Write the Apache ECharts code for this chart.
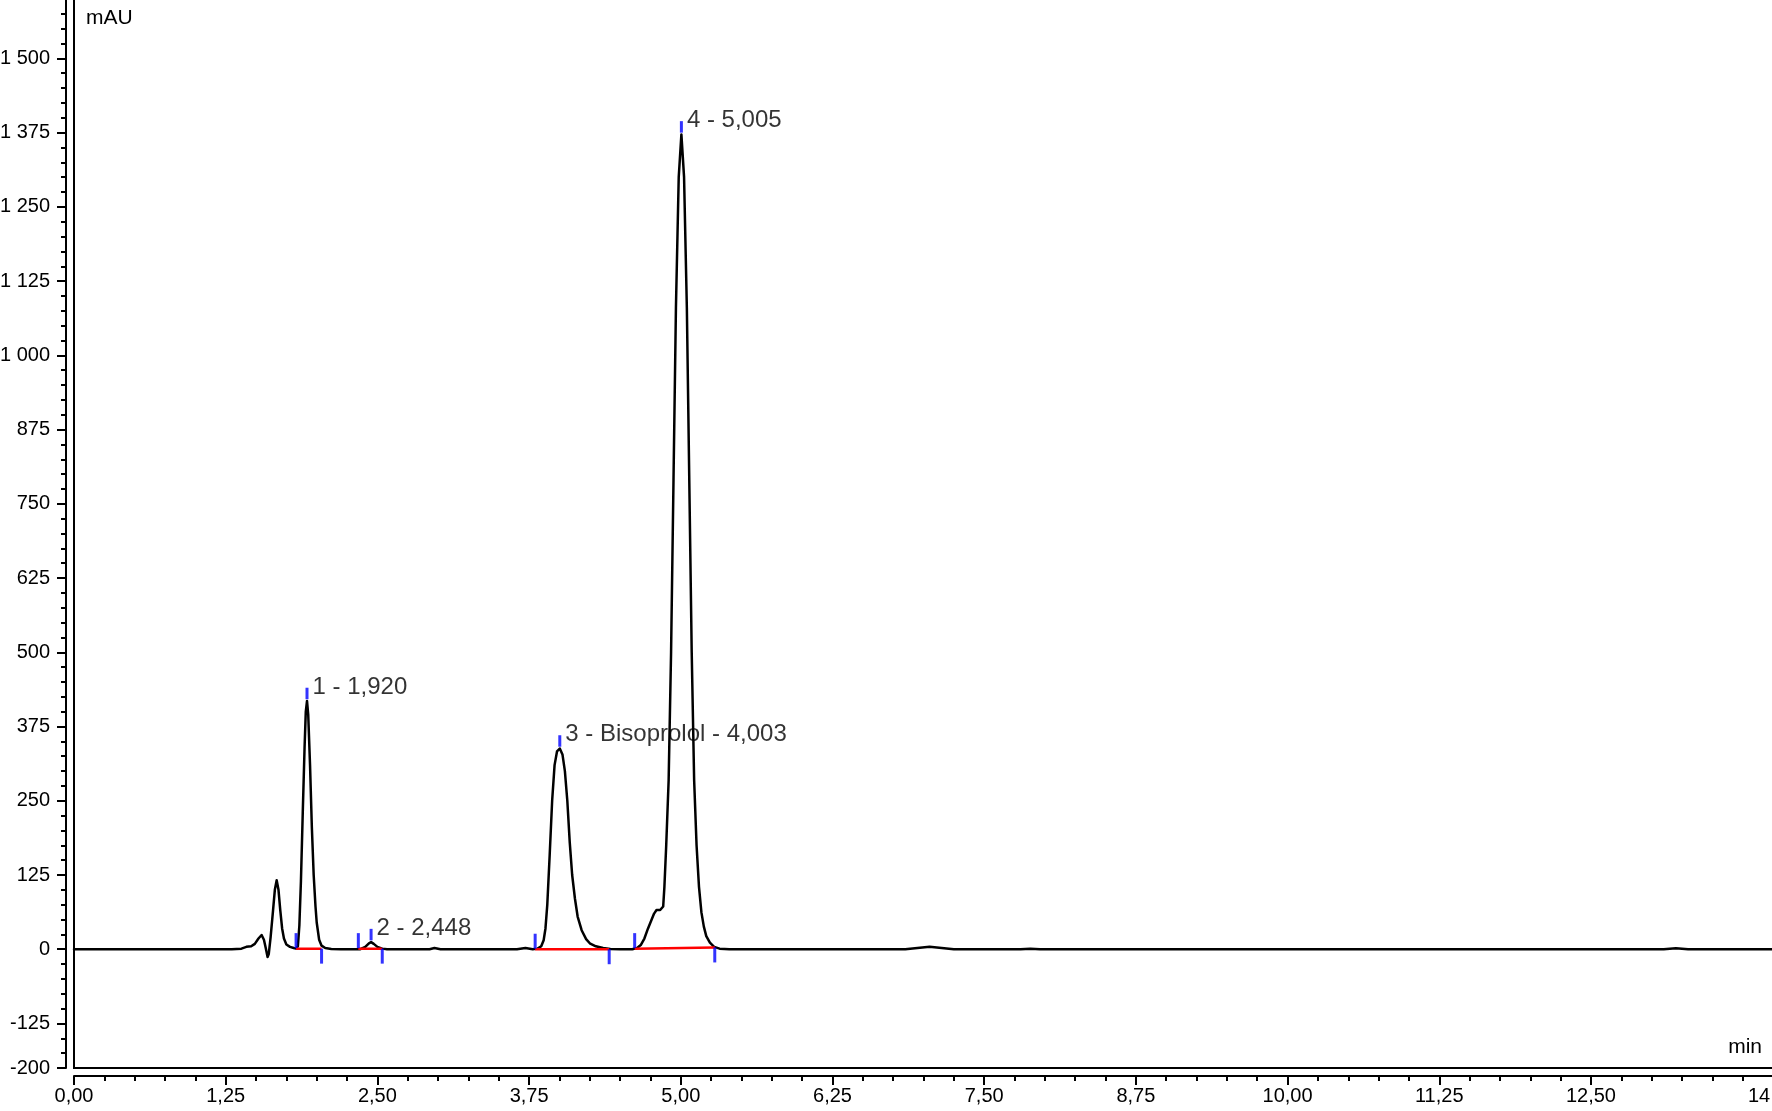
<!DOCTYPE html>
<html>
<head>
<meta charset="utf-8">
<script src="https://cdn.jsdelivr.net/npm/echarts@6/dist/echarts.min.js"></script>
<style>
  html, body { margin: 0; padding: 0; background: #ffffff; }
  #chart { width: 1772px; height: 1111px; }
</style>
</head>
<body>
<div id="chart"></div>
<script>
// ---- Data (time in min, signal in mAU) ----
const baselineLead = [[0, 0], [0.5, 0], [1.0, 0], [1.3, 0]];
const prePeaks = [[1.38, 1], [1.42, 4], [1.46, 5], [1.49, 9], [1.52, 18], [1.546, 24], [1.565, 16], [1.58, 2],
  [1.595, -13], [1.605, -8], [1.62, 20], [1.64, 65], [1.655, 100], [1.67, 116], [1.685, 100], [1.70, 65],
  [1.715, 35], [1.73, 18], [1.75, 8], [1.78, 4], [1.81, 2], [1.83, 1]];
const peak1 = [[1.845, 5], [1.857, 40], [1.87, 115], [1.885, 230], [1.90, 340], [1.91, 400], [1.92, 418],
  [1.93, 395], [1.945, 310], [1.96, 205], [1.975, 125], [1.99, 72], [2.00, 45], [2.02, 16], [2.04, 6],
  [2.07, 2], [2.12, 0.5], [2.2, 0]];
const peak2 = [[2.36, 0], [2.40, 4], [2.43, 10], [2.448, 12], [2.47, 9], [2.50, 4], [2.54, 1], [2.58, 0],
  [2.7, 0], [2.93, 0], [2.97, 2], [3.02, 0], [3.3, 0], [3.65, 0], [3.72, 2], [3.78, 0]];
const peak3 = [[3.82, 1], [3.85, 5], [3.87, 15], [3.885, 35], [3.90, 75], [3.92, 160], [3.94, 250], [3.96, 310],
  [3.98, 333], [4.003, 338], [4.025, 328], [4.045, 300], [4.065, 250], [4.085, 180], [4.105, 125], [4.128, 85],
  [4.15, 55], [4.183, 32], [4.22, 17], [4.25, 10], [4.30, 5], [4.36, 2], [4.42, 0.5], [4.5, 0], [4.6, 0]];
const peak4 = [[4.64, 2], [4.67, 7], [4.70, 18], [4.73, 35], [4.76, 50], [4.78, 60], [4.80, 66], [4.815, 68],
  [4.83, 66], [4.845, 64], [4.855, 72], [4.865, 105], [4.88, 175], [4.90, 285], [4.92, 500], [4.94, 790],
  [4.96, 1080], [4.983, 1300], [5.005, 1372], [5.027, 1300], [5.05, 1080], [5.07, 790], [5.09, 500],
  [5.11, 285], [5.13, 175], [5.15, 105], [5.17, 62], [5.19, 38], [5.21, 22], [5.24, 11], [5.275, 4],
  [5.32, 1], [5.4, 0]];
const tail = [[5.6, 0], [6.0, 0], [6.5, 0], [6.85, 0], [6.95, 2], [7.05, 4], [7.15, 2], [7.25, 0], [7.8, 0],
  [7.88, 1], [7.96, 0], [9.0, 0], [11.0, 0], [13.1, 0], [13.2, 1.5], [13.3, 0], [14.0, 0]];

// Integration results
const peakLabels = ['1 - 1,920', '2 - 2,448', '3 - Bisoprolol - 4,003', '4 - 5,005'];
const apexTimes = [1.920, 2.448, 4.003, 5.005];
const apexHeights = [418, 12, 338, 1372];
const peakStartTimes = [1.83, 2.343, 3.80, 4.62];
const peakEndTimes = [2.04, 2.54, 4.41, 5.28];
const baseAtStart = [1, 1, 0, 1];
const baseAtEnd = [1, 1, 0, 3];

// Axis ticks
const xMajorTicks = [0, 1.25, 2.5, 3.75, 5, 6.25, 7.5, 8.75, 10, 11.25, 12.5, 14];
const yMajorTicks = [-200, -125, 0, 125, 250, 375, 500, 625, 750, 875, 1000, 1125, 1250, 1375, 1500];

// ---- Build options ----
const trace = [].concat(baselineLead, prePeaks, peak1, peak2, peak3, peak4, tail);

function fmtX(v) { return v.toFixed(2).replace('.', ','); }
function fmtY(v) {
  const a = Math.abs(v);
  const s = a >= 1000 ? Math.floor(a / 1000) + ' ' + String(a % 1000).padStart(3, '0') : String(a);
  return (v < 0 ? '-' : '') + s;
}

const FONT = "'Liberation Sans', Arial, sans-serif";
const baselineSeries = peakStartTimes.map((s, i) => ({
  type: 'line', silent: true, showSymbol: false, z: 4,
  lineStyle: { color: '#ff0000', width: 2.5 },
  data: [[s, baseAtStart[i]], [peakEndTimes[i], baseAtEnd[i]]]
}));

const option = {
  animation: false,
  backgroundColor: '#ffffff',
  textStyle: { fontFamily: FONT },
  grid: {
    left: 74, right: -1, top: -1, bottom: 43,
    outerBoundsMode: 'none', containLabel: false,
    show: true, borderColor: '#000', borderWidth: 2, backgroundColor: 'transparent'
  },
  xAxis: [
    {
      type: 'value', min: 0, max: 14, position: 'bottom', offset: 8,
      name: 'min', nameLocation: 'end', nameGap: -11,
      nameTextStyle: { fontFamily: FONT, fontSize: 21, color: '#000', align: 'right', verticalAlign: 'bottom', padding: [0, 0, 18, 0] },
      axisLine: { show: true, onZero: false, lineStyle: { color: '#000', width: 2 } },
      axisTick: { show: true, length: 9, customValues: xMajorTicks, lineStyle: { color: '#000', width: 2 } },
      axisLabel: { show: true, customValues: xMajorTicks, formatter: fmtX, margin: 10, fontFamily: FONT, fontSize: 20, color: '#000' },
      splitLine: { show: false }
    },
    {
      type: 'value', min: 0, max: 14, interval: 0.25, position: 'bottom', offset: 8,
      axisLine: { show: false, onZero: false },
      axisTick: { show: true, length: 5, lineStyle: { color: '#000', width: 2 } },
      axisLabel: { show: false },
      splitLine: { show: false }
    }
  ],
  yAxis: [
    {
      type: 'value', min: -200, max: 1600, position: 'left', offset: 8,
      name: 'mAU', nameLocation: 'end', nameGap: -29.5,
      nameTextStyle: { fontFamily: FONT, fontSize: 21, color: '#000', align: 'left', verticalAlign: 'bottom', padding: [0, 0, 0, 20] },
      axisLine: { show: true, onZero: false, lineStyle: { color: '#000', width: 2 } },
      axisTick: { show: true, length: 9, customValues: yMajorTicks, lineStyle: { color: '#000', width: 2 } },
      axisLabel: { show: true, customValues: yMajorTicks, formatter: fmtY, margin: 16, fontFamily: FONT, fontSize: 20, color: '#000' },
      splitLine: { show: false }
    },
    {
      type: 'value', min: -200, max: 1600, interval: 25, position: 'left', offset: 8,
      axisLine: { show: false, onZero: false },
      axisTick: { show: true, length: 5, lineStyle: { color: '#000', width: 2 } },
      axisLabel: { show: false },
      splitLine: { show: false }
    }
  ],
  series: [
    {
      type: 'line', name: 'signal', data: trace, showSymbol: false, z: 3,
      smooth: false,
      lineStyle: { color: '#000', width: 2.5, join: 'round', cap: 'round' }
    }
  ].concat(baselineSeries, [
    {
      type: 'scatter', name: 'start', z: 5, silent: true,
      symbol: 'rect', symbolSize: [3, 15], symbolOffset: [0, -8],
      itemStyle: { color: '#0000ff' },
      data: peakStartTimes.map((t, i) => [t, baseAtStart[i]])
    },
    {
      type: 'scatter', name: 'end', z: 5, silent: true,
      symbol: 'rect', symbolSize: [3, 15], symbolOffset: [0, 7.5],
      itemStyle: { color: '#0000ff' },
      data: peakEndTimes.map((t, i) => [t, baseAtEnd[i]])
    },
    {
      type: 'scatter', name: 'apex', z: 6, silent: true,
      symbol: 'rect', symbolSize: [3, 11.5], symbolOffset: [0, -7.5],
      itemStyle: { color: '#0000ff' },
      label: {
        show: true, position: 'right', distance: 4, offset: [0, -6.5],
        fontFamily: FONT, fontSize: 24, color: '#000',
        formatter: p => peakLabels[p.dataIndex]
      },
      data: apexTimes.map((t, i) => [t, apexHeights[i]])
    }
  ])
};

const chart = echarts.init(document.getElementById('chart'), null, { renderer: 'canvas' });
chart.setOption(option);
</script>
</body>
</html>
